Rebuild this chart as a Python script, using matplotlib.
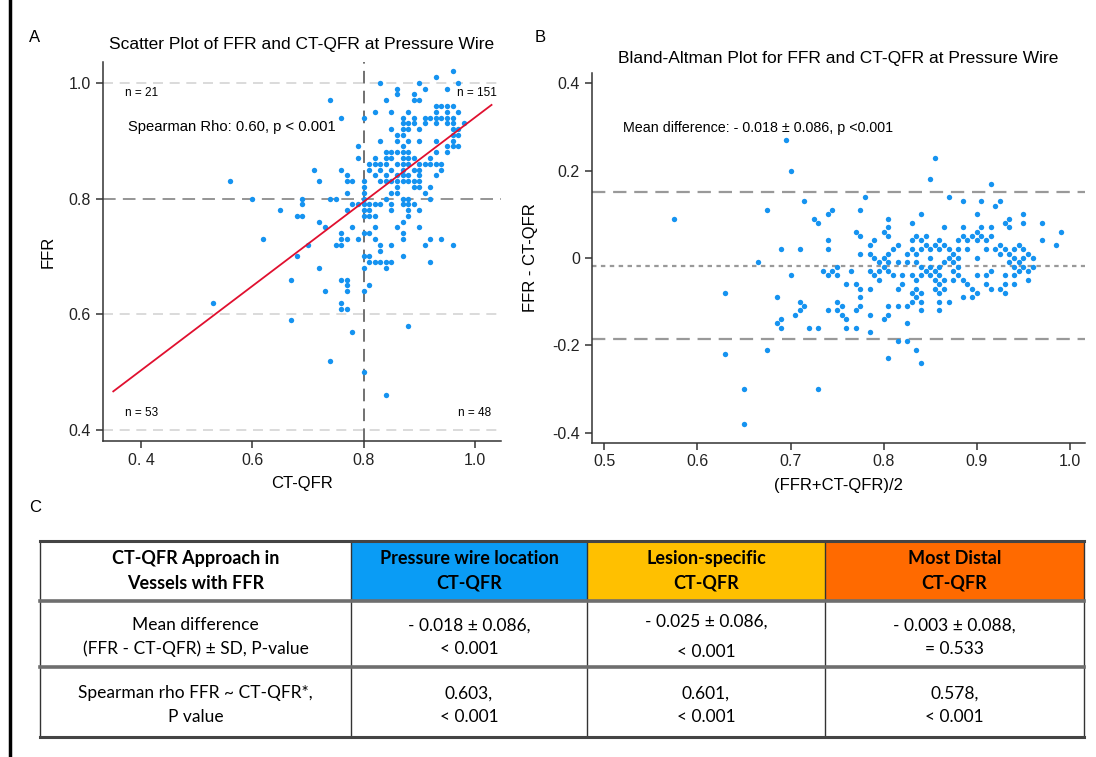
import matplotlib
matplotlib.use("Agg")
import matplotlib.pyplot as plt
import numpy as np
from matplotlib.patches import Rectangle

plt.rcParams['font.family'] = ['Liberation Sans', 'DejaVu Sans']

# panel A: CT-QFR (x) and FFR (y), one line per FFR level
ct_qfr = [
    0.96,
    0.93,
    0.83, 0.90, 0.97,
    0.86, 0.91, 0.95,
    0.86, 0.89,
    0.74, 0.84, 0.89, 0.90,
    0.93, 0.94, 0.95, 0.96,
    0.82, 0.85, 0.88, 0.93, 0.95, 0.97,
    0.76, 0.80, 0.87, 0.89, 0.91, 0.92, 0.93, 0.94, 0.95, 0.96,
    0.87, 0.88, 0.89, 0.91, 0.93, 0.95, 0.96, 0.98,
    0.85, 0.87, 0.88, 0.90, 0.96, 0.97,
    0.86, 0.87, 0.96, 0.97,
    0.83, 0.86, 0.88, 0.90, 0.93, 0.96,
    0.79, 0.87, 0.95, 0.96, 0.97,
    0.84, 0.85, 0.86, 0.87, 0.88, 0.93, 0.95,
    0.79, 0.82, 0.84, 0.85, 0.87, 0.88, 0.89, 0.92,
    0.81, 0.82, 0.83, 0.84, 0.86, 0.87, 0.88, 0.90, 0.91, 0.92, 0.93, 0.94,
    0.71, 0.76, 0.81, 0.83, 0.85, 0.87, 0.89, 0.90, 0.94,
    0.77, 0.82, 0.84, 0.86, 0.87, 0.88, 0.90, 0.93,
    0.56, 0.72, 0.77, 0.78, 0.80, 0.83, 0.84, 0.85, 0.86, 0.87, 0.88, 0.89, 0.90,
    0.80, 0.86, 0.89, 0.90, 0.92,
    0.77, 0.80, 0.85, 0.86, 0.91,
    0.60, 0.69, 0.74, 0.75, 0.80, 0.84, 0.87, 0.88, 0.92,
    0.69, 0.78, 0.79, 0.80, 0.81, 0.82, 0.83, 0.85, 0.87, 0.88, 0.89,
    0.65, 0.77, 0.80, 0.81, 0.85, 0.88, 0.90,
    0.68, 0.69, 0.80, 0.81, 0.82, 0.88,
    0.72, 0.87,
    0.73, 0.78, 0.82, 0.86, 0.90,
    0.76, 0.80, 0.81, 0.87,
    0.62, 0.76, 0.77, 0.79, 0.82, 0.87, 0.92, 0.94,
    0.70, 0.75, 0.76, 0.83, 0.85, 0.91, 0.96,
    0.83,
    0.68, 0.80, 0.81, 0.87,
    0.81, 0.82, 0.83, 0.84, 0.85, 0.92,
    0.72, 0.80, 0.84,
    0.67, 0.76, 0.77,
    0.77, 0.81,
    0.73, 0.77, 0.80,
    0.53, 0.76,
    0.76, 0.77,
    0.67,
    0.88,
    0.78,
    0.74,
    0.80,
    0.84,
]
ffr = [
    1.02,
    1.01,
    1.00, 1.00, 1.00,
    0.99, 0.99, 0.99,
    0.98, 0.98,
    0.97, 0.97, 0.97, 0.97,
    0.96, 0.96, 0.96, 0.96,
    0.95, 0.95, 0.95, 0.95, 0.95, 0.95,
    0.94, 0.94, 0.94, 0.94, 0.94, 0.94, 0.94, 0.94, 0.94, 0.94,
    0.93, 0.93, 0.93, 0.93, 0.93, 0.93, 0.93, 0.93,
    0.92, 0.92, 0.92, 0.92, 0.92, 0.92,
    0.91, 0.91, 0.91, 0.91,
    0.90, 0.90, 0.90, 0.90, 0.90, 0.90,
    0.89, 0.89, 0.89, 0.89, 0.89,
    0.88, 0.88, 0.88, 0.88, 0.88, 0.88, 0.88,
    0.87, 0.87, 0.87, 0.87, 0.87, 0.87, 0.87, 0.87,
    0.86, 0.86, 0.86, 0.86, 0.86, 0.86, 0.86, 0.86, 0.86, 0.86, 0.86, 0.86,
    0.85, 0.85, 0.85, 0.85, 0.85, 0.85, 0.85, 0.85, 0.85,
    0.84, 0.84, 0.84, 0.84, 0.84, 0.84, 0.84, 0.84,
    0.83, 0.83, 0.83, 0.83, 0.83, 0.83, 0.83, 0.83, 0.83, 0.83, 0.83, 0.83, 0.83,
    0.82, 0.82, 0.82, 0.82, 0.82,
    0.81, 0.81, 0.81, 0.81, 0.81,
    0.80, 0.80, 0.80, 0.80, 0.80, 0.80, 0.80, 0.80, 0.80,
    0.79, 0.79, 0.79, 0.79, 0.79, 0.79, 0.79, 0.79, 0.79, 0.79, 0.79,
    0.78, 0.78, 0.78, 0.78, 0.78, 0.78, 0.78,
    0.77, 0.77, 0.77, 0.77, 0.77, 0.77,
    0.76, 0.76,
    0.75, 0.75, 0.75, 0.75, 0.75,
    0.74, 0.74, 0.74, 0.74,
    0.73, 0.73, 0.73, 0.73, 0.73, 0.73, 0.73, 0.73,
    0.72, 0.72, 0.72, 0.72, 0.72, 0.72, 0.72,
    0.71,
    0.70, 0.70, 0.70, 0.70,
    0.69, 0.69, 0.69, 0.69, 0.69, 0.69,
    0.68, 0.68, 0.68,
    0.66, 0.66, 0.66,
    0.65, 0.65,
    0.64, 0.64, 0.64,
    0.62, 0.62,
    0.61, 0.61,
    0.59,
    0.58,
    0.57,
    0.52,
    0.50,
    0.46,
]
assert len(ct_qfr) == len(ffr)

# fitted line
fit_slope = 0.728
fit_intercept = 0.212
fit_range = [0.35, 1.03]

quadrant_n = ["n = 21", "n = 151", "n = 53", "n = 48"]
rho_text = "Spearman Rho: 0.60, p < 0.001"

# panel B: mean of the two (x) and difference FFR - CT-QFR (y), one line per x column
ba_mean = [
    0.575,
    0.63, 0.63,
    0.65, 0.65,
    0.665,
    0.675, 0.675,
    0.685, 0.685,
    0.69, 0.69, 0.69,
    0.695,
    0.70, 0.70,
    0.705,
    0.71, 0.71, 0.71,
    0.715, 0.715,
    0.72,
    0.725,
    0.73, 0.73, 0.73,
    0.735,
    0.74, 0.74, 0.74, 0.74, 0.74,
    0.745, 0.745,
    0.75, 0.75, 0.75, 0.75,
    0.755, 0.755,
    0.76, 0.76, 0.76,
    0.765,
    0.77, 0.77, 0.77, 0.77,
    0.775, 0.775, 0.775, 0.775, 0.775, 0.775,
    0.78,
    0.785, 0.785, 0.785, 0.785, 0.785, 0.785,
    0.79, 0.79, 0.79,
    0.795, 0.795, 0.795,
    0.80, 0.80, 0.80, 0.80,
    0.805, 0.805, 0.805, 0.805, 0.805, 0.805, 0.805, 0.805, 0.805,
    0.81, 0.81,
    0.815, 0.815, 0.815, 0.815, 0.815,
    0.82, 0.82,
    0.825, 0.825, 0.825, 0.825, 0.825,
    0.83, 0.83, 0.83, 0.83, 0.83, 0.83,
    0.835, 0.835, 0.835, 0.835, 0.835, 0.835, 0.835,
    0.84, 0.84, 0.84, 0.84, 0.84, 0.84, 0.84, 0.84, 0.84,
    0.845, 0.845, 0.845,
    0.85, 0.85, 0.85, 0.85, 0.85,
    0.855, 0.855, 0.855, 0.855, 0.855,
    0.86, 0.86, 0.86, 0.86, 0.86, 0.86, 0.86, 0.86,
    0.865, 0.865, 0.865, 0.865, 0.865,
    0.87, 0.87, 0.87, 0.87,
    0.875, 0.875, 0.875, 0.875,
    0.88, 0.88, 0.88, 0.88, 0.88,
    0.885, 0.885, 0.885, 0.885, 0.885,
    0.89, 0.89, 0.89,
    0.895, 0.895, 0.895,
    0.90, 0.90, 0.90, 0.90, 0.90, 0.90,
    0.905, 0.905, 0.905,
    0.91, 0.91, 0.91, 0.91,
    0.915, 0.915, 0.915, 0.915, 0.915,
    0.92, 0.92,
    0.925, 0.925, 0.925, 0.925,
    0.93, 0.93, 0.93, 0.93, 0.93,
    0.935, 0.935, 0.935, 0.935,
    0.94, 0.94, 0.94, 0.94, 0.94,
    0.945, 0.945, 0.945,
    0.95, 0.95, 0.95, 0.95, 0.95,
    0.955, 0.955, 0.955,
    0.96, 0.96,
    0.97, 0.97,
    0.985,
    0.99,
]
ba_diff = [
    0.09,
    -0.08, -0.22,
    -0.30, -0.38,
    -0.01,
    0.11, -0.21,
    -0.09, -0.15,
    0.02, -0.14, -0.16,
    0.27,
    0.20, -0.04,
    -0.13,
    0.02, -0.10, -0.12,
    0.13, -0.11,
    -0.16,
    0.09,
    0.08, -0.16, -0.30,
    -0.03,
    0.10, 0.04, 0.02, -0.04, -0.12,
    0.11, -0.03,
    -0.02, -0.04, -0.10, -0.12,
    -0.11, -0.13,
    -0.06, -0.14, -0.16,
    -0.03,
    0.06, -0.06, -0.12, -0.16,
    0.11, 0.05, 0.01, -0.07, -0.09, -0.11,
    0.14,
    0.03, 0.01, -0.03, -0.07, -0.13, -0.17,
    0.04, 0.00, -0.04,
    -0.01, -0.03, -0.05,
    0.06, 0.00, -0.02, -0.14,
    0.09, 0.07, 0.05, 0.01, -0.01, -0.03, -0.11, -0.13, -0.23,
    0.02, -0.04,
    0.03, -0.01, -0.07, -0.11, -0.19,
    -0.04, -0.06,
    0.01, -0.01, -0.11, -0.15, -0.19,
    0.08, 0.04, 0.02, -0.04, -0.08, -0.10,
    0.05, 0.01, -0.01, -0.05, -0.07, -0.09, -0.21,
    0.10, 0.04, 0.02, -0.02, -0.04, -0.08, -0.10, -0.12, -0.24,
    0.05, 0.03, -0.03,
    0.18, 0.02, 0.00, -0.02, -0.04,
    0.23, 0.03, -0.03, -0.05, -0.07,
    0.04, 0.02, -0.02, -0.04, -0.06, -0.08, -0.10, -0.12,
    0.07, 0.03, -0.01, -0.05, -0.07,
    0.14, 0.02, 0.00, -0.10,
    0.01, -0.01, -0.03, -0.05,
    0.04, 0.02, 0.00, -0.02, -0.04,
    0.13, 0.07, 0.05, -0.05, -0.09,
    0.04, 0.02, -0.06,
    0.05, -0.07, -0.09,
    0.10, 0.06, 0.04, 0.00, -0.04, -0.08,
    0.13, 0.07, 0.05,
    0.04, 0.02, -0.04, -0.06,
    0.17, 0.07, 0.05, -0.03, -0.07,
    0.12, 0.02,
    0.13, 0.03, 0.01, -0.07,
    0.08, 0.02, -0.04, -0.06, -0.08,
    0.09, 0.07, 0.01, -0.01,
    0.02, 0.00, -0.02, -0.04, -0.06,
    0.03, -0.01, -0.03,
    0.10, 0.08, 0.02, 0.00, -0.02,
    0.01, -0.03, -0.05,
    0.00, -0.02,
    0.08, 0.04,
    0.03,
    0.06,
]
assert len(ba_mean) == len(ba_diff)

mean_diff = -0.018
sd_diff = 0.086
ba_text = "Mean difference: - 0.018 \u00b1 0.086, p <0.001"

# panel C table
col_headers = ["CT-QFR Approach in\nVessels with FFR",
               "Pressure wire location\nCT-QFR",
               "Lesion-specific\nCT-QFR",
               "Most Distal\nCT-QFR"]
header_colors = ["white", "#0a9cf5", "#ffc000", "#ff6a00"]
row_mean = ["Mean difference\n(FFR - CT-QFR) \u00b1 SD, P-value",
            "- 0.018 \u00b1 0.086,\n< 0.001",
            "- 0.025 \u00b1 0.086,\n< 0.001",
            "- 0.003 \u00b1 0.088,\n= 0.533"]
row_rho = ["Spearman rho FFR ~ CT-QFR*,\nP value",
           "0.603,\n< 0.001",
           "0.601,\n< 0.001",
           "0.578,\n< 0.001"]

dot_color = "#1593f0"
axis_color = "#333333"

fig = plt.figure(figsize=(10.96, 7.57), dpi=100)

def style_axes(ax):
    for s in ["top", "right"]:
        ax.spines[s].set_visible(False)
    for s in ["left", "bottom"]:
        ax.spines[s].set_color(axis_color)
        ax.spines[s].set_linewidth(1.1)
    ax.tick_params(direction="out", length=5, width=1.1, color=axis_color,
                   labelsize=11.5, labelcolor="#222222")

# ---- panel A
axA = fig.add_axes([0.0937, 0.4174, 0.3634, 0.5007])
style_axes(axA)
axA.set_xlim(0.331, 1.047)
axA.set_ylim(0.381, 1.036)
for yv in [0.4, 0.6, 1.0]:
    axA.axhline(yv, color="#d4d4d4", lw=1.2, ls=(0, (6, 4)), zorder=1)
axA.axhline(0.8, color="#8c8c8c", lw=1.3, ls=(0, (7, 4)), zorder=1)
axA.axvline(0.8, color="#666666", lw=1.3, ls=(0, (7, 4)), zorder=1)
axA.scatter(ct_qfr, ffr, s=15, color=dot_color, linewidths=0, zorder=3)
xf = np.array(fit_range)
axA.plot(xf, fit_intercept + fit_slope * xf, color="#e0102f", lw=1.3, zorder=4)
axA.set_xticks([0.4, 0.6, 0.8, 1.0])
axA.set_xticklabels(["0. 4", "0.6", "0.8", "1.0"])
axA.set_yticks([0.4, 0.6, 0.8, 1.0])
axA.set_yticklabels(["0.4", "0.6", "0.8", "1.0"])
axA.set_xlabel("CT-QFR", fontsize=12, labelpad=6)
axA.set_ylabel("FFR", fontsize=12, labelpad=9)
axA.set_title("Scatter Plot of FFR and CT-QFR at Pressure Wire", fontsize=12.5, pad=9)
axA.text(0.371, 0.982, quadrant_n[0], fontsize=8.5, va="center", ha="left")
axA.text(1.039, 0.982, quadrant_n[1], fontsize=8.5, va="center", ha="right")
axA.text(0.371, 0.4295, quadrant_n[2], fontsize=8.5, va="center", ha="left")
axA.text(1.029, 0.4295, quadrant_n[3], fontsize=8.5, va="center", ha="right")
axA.text(0.376, 0.924, rho_text, fontsize=10.6, va="center", ha="left")

# ---- panel B
axB = fig.add_axes([0.5399, 0.4152, 0.4498, 0.4884])
style_axes(axB)
axB.set_xlim(0.4865, 1.016)
axB.set_ylim(-0.423, 0.4236)
loa = [mean_diff + 1.96 * sd_diff, mean_diff - 1.96 * sd_diff]
for yv in loa:
    axB.axhline(yv, color="#999999", lw=1.6, ls=(0, (6, 3.5)), zorder=1)
axB.axhline(mean_diff, color="#999999", lw=1.6, ls=(0, (2, 2)), zorder=1)
axB.scatter(ba_mean, ba_diff, s=15, color=dot_color, linewidths=0, zorder=3)
axB.set_xticks([0.5, 0.6, 0.7, 0.8, 0.9, 1.0])
axB.set_xticklabels(["0.5", "0.6", "0.7", "0.8", "0.9", "1.0"])
axB.set_yticks([-0.4, -0.2, 0, 0.2, 0.4])
axB.set_yticklabels(["-0.4", "-0.2", "0", "0.2", "0.4"])
axB.set_xlabel("(FFR+CT-QFR)/2", fontsize=12, labelpad=6)
axB.set_ylabel("FFR - CT-QFR", fontsize=12, labelpad=10)
axB.set_title("Bland-Altman Plot for FFR and CT-QFR at Pressure Wire", fontsize=12.5, pad=7)
axB.text(0.5204, 0.2985, ba_text, fontsize=10.3, va="center", ha="left")

# ---- panel letters, border and table (pixel coordinates)
ov = fig.add_axes([0, 0, 1, 1], zorder=-1)
ov.set_xlim(0, 1096)
ov.set_ylim(757, 0)
ov.axis("off")
ov.plot([10, 10], [0, 757], color="black", lw=2.5)
for lab, (px, py) in zip(["A", "B", "C"], [(35, 37), (540, 37), (35, 508)]):
    ov.text(px, py, lab, fontsize=12, ha="center", va="center")

col_edges = [40, 351, 587, 825, 1084]
row_edges = [541, 601, 667, 737]
tab_font = ["Liberation Sans Narrow", "Lato", "DejaVu Sans"]
for i in range(4):
    ov.add_patch(Rectangle((col_edges[i], row_edges[0]), col_edges[i + 1] - col_edges[i],
                           row_edges[1] - row_edges[0], facecolor=header_colors[i],
                           edgecolor="none", zorder=1))
for x in col_edges:
    ov.plot([x, x], [row_edges[0], row_edges[-1]], color="#333333", lw=1.0, zorder=3)
for k, y in enumerate(row_edges):
    lw = 2.2 if k in (0, 3) else 2.6
    col = "#444444" if k in (0, 3) else "#6e6e6e"
    ov.plot([col_edges[0], col_edges[-1]], [y, y], color=col, lw=lw, zorder=4)

for i in range(4):
    cx = (col_edges[i] + col_edges[i + 1]) / 2
    ov.text(cx, (row_edges[0] + row_edges[1]) / 2, col_headers[i], family=tab_font,
            fontsize=13, fontweight="bold", ha="center", va="center",
            linespacing=1.55, zorder=5)
    ls = 2.15 if i == 2 else 1.55
    ov.text(cx, (row_edges[1] + row_edges[2]) / 2 + 3, row_mean[i], family=tab_font,
            fontsize=12.5, ha="center", va="center", linespacing=ls, zorder=5)
    ov.text(cx, (row_edges[2] + row_edges[3]) / 2 + 3, row_rho[i], family=tab_font,
            fontsize=12.5, ha="center", va="center", linespacing=1.55, zorder=5)

fig.savefig("out.png", dpi=100, facecolor="white")
